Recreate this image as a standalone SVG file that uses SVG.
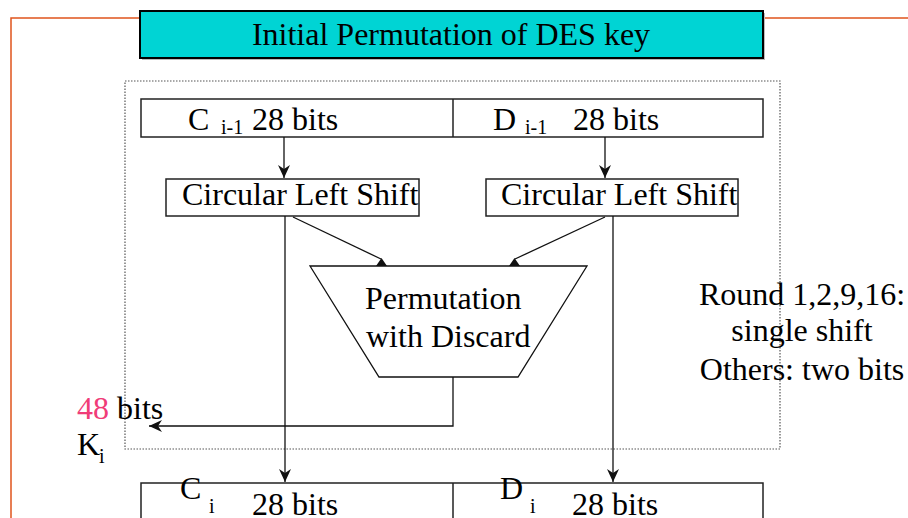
<svg xmlns="http://www.w3.org/2000/svg" width="908" height="518" viewBox="0 0 908 518">
  <style>
    text { font-family: "Liberation Serif", "Times New Roman", serif; font-size: 32px; fill: #000; }
    .sub { font-size: 20px; }
    .box { fill: #fff; stroke: #222; stroke-width: 1.5; }
    .wire { fill: none; stroke: #111; stroke-width: 1.3; }
    .frame { fill: none; stroke: #555; stroke-width: 1.2; stroke-dasharray: 1.5 1.5; }
    .slide { fill: none; stroke: #e0541c; stroke-width: 1.5; }
    .pink { fill: #f03c78; }
  </style>
  <defs>
    <marker id="arrow" markerUnits="userSpaceOnUse" markerWidth="14" markerHeight="12" viewBox="0 0 14 12" refX="13" refY="6" orient="auto">
      <path d="M0,0 L13,6 L0,12 L4,6 z" fill="#111"/>
    </marker>
  </defs>

  <!-- slide border lines -->
  <path class="slide" d="M11,518 V18 H140 M763,18 H908"/>

  <!-- title banner -->
  <g id="title">
    <rect x="142" y="13" width="623" height="47" fill="#bbb"/>
    <rect x="140" y="11" width="623" height="47" fill="#00d4d4" stroke="#000" stroke-width="2"/>
    <text x="451" y="45" text-anchor="middle">Initial Permutation of DES key</text>
  </g>

  <!-- dotted round frame -->
  <rect class="frame" x="125" y="81" width="655" height="368"/>

  <!-- input halves -->
  <g id="input">
    <rect class="box" x="141" y="99" width="622" height="38"/>
    <line x1="453" y1="99" x2="453" y2="137" stroke="#222" stroke-width="1.5"/>
    <text x="188" y="130">C</text>
    <text class="sub" x="221" y="134">i-1</text>
    <text x="252" y="130">28 bits</text>
    <text x="493" y="130">D</text>
    <text class="sub" x="525" y="134">i-1</text>
    <text x="573" y="130">28 bits</text>
  </g>

  <!-- shifters -->
  <g id="shift-c">
    <rect class="box" x="166" y="179" width="253" height="37"/>
    <text x="182" y="205">Circular Left Shift</text>
  </g>
  <g id="shift-d">
    <rect class="box" x="486" y="179" width="252" height="37"/>
    <text x="501" y="205">Circular Left Shift</text>
  </g>

  <!-- compression permutation -->
  <g id="pc2">
    <polygon points="310,266 587,266 518,377 379,377" fill="#fff" stroke="#111" stroke-width="1.3"/>
    <text x="365" y="309">Permutation</text>
    <text x="366" y="347">with Discard</text>
  </g>

  <!-- round key label -->
  <g id="round-key">
    <text x="77" y="419"><tspan class="pink">48</tspan> bits</text>
    <text x="77" y="455">K</text>
    <text class="sub" x="99" y="463">i</text>
  </g>

  <!-- shift schedule note -->
  <g id="note">
    <text x="802" y="305" text-anchor="middle">Round 1,2,9,16:</text>
    <text x="802" y="341" text-anchor="middle">single shift</text>
    <text x="802" y="380" text-anchor="middle">Others: two bits</text>
  </g>

  <!-- output halves -->
  <g id="output">
    <rect class="box" x="141" y="483" width="622" height="60"/>
    <line x1="453" y1="483" x2="453" y2="518" stroke="#222" stroke-width="1.5"/>
    <text x="180" y="499">C</text>
    <text class="sub" x="209" y="513">i</text>
    <text x="252" y="515">28 bits</text>
    <text x="500" y="499">D</text>
    <text class="sub" x="530" y="513">i</text>
    <text x="572" y="515">28 bits</text>
  </g>

  <!-- connectors -->
  <g id="connectors">
    <path class="wire" d="M284,137 V178" marker-end="url(#arrow)"/>
    <path class="wire" d="M605,137 V178" marker-end="url(#arrow)"/>
    <path class="wire" d="M285,216 V482" marker-end="url(#arrow)"/>
    <path class="wire" d="M613,216 V482" marker-end="url(#arrow)"/>
    <path class="wire" d="M293,217 L381,259"/>
    <polygon points="381.5,258 376,266 387,266" fill="#111"/>
    <path class="wire" d="M605,217 L515,259"/>
    <polygon points="514.5,258 509,266 520,266" fill="#111"/>
    <path class="wire" d="M453,377 V426 H149" marker-end="url(#arrow)"/>
  </g>
</svg>
